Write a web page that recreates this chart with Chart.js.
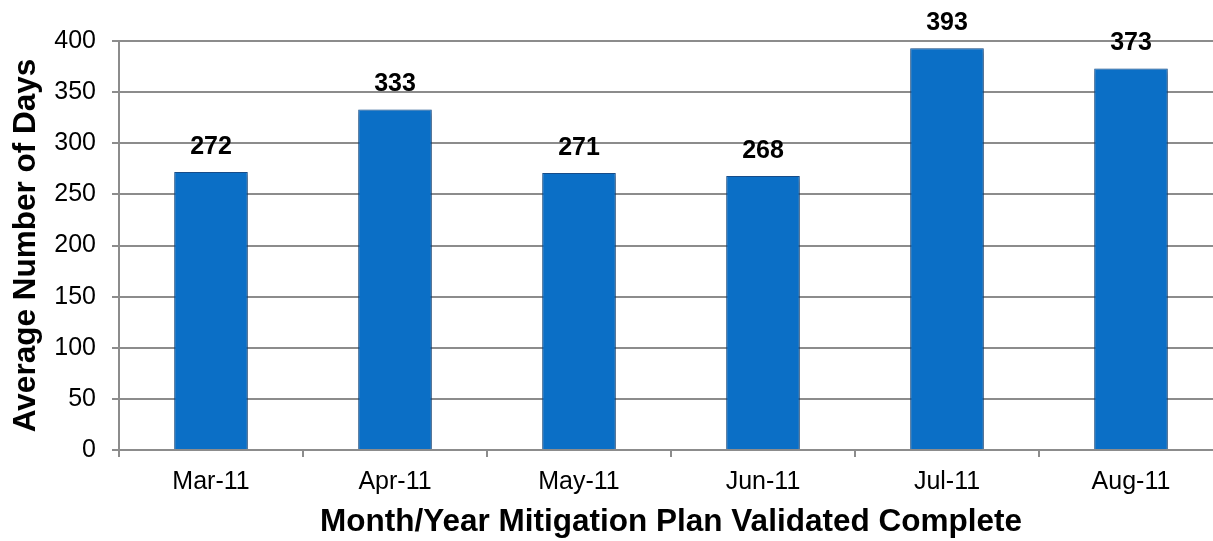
<!DOCTYPE html>
<html>
<head>
<meta charset="utf-8">
<script src="https://cdn.jsdelivr.net/npm/chart.js@4/dist/chart.umd.min.js"></script>
<style>
  html, body { margin: 0; padding: 0; background: #fff; overflow: hidden; }
  #wrap { width: 1228px; height: 541px; }
</style>
</head>
<body>
<div id="wrap"><canvas id="daysChart" width="1228" height="541"></canvas></div>
<script>
// data
var months = ['Mar-11', 'Apr-11', 'May-11', 'Jun-11', 'Jul-11', 'Aug-11'];
var avgDays = [272, 333, 271, 268, 393, 373];
var yTicks = [0, 50, 100, 150, 200, 250, 300, 350, 400];

var FONT = '"Liberation Sans", Arial, sans-serif';

// bold value over each bar
var valueLabels = {
    id: 'valueLabels',
    afterDatasetsDraw: function (chart) {
        var ctx = chart.ctx;
        var meta = chart.getDatasetMeta(0);
        ctx.save();
        ctx.font = 'bold 25px ' + FONT;
        ctx.fillStyle = '#000';
        ctx.textAlign = 'center';
        ctx.textBaseline = 'middle';
        meta.data.forEach(function (bar, i) {
            ctx.fillText(avgDays[i], bar.x, bar.y - 25);
        });
        ctx.restore();
    }
};

// soft shadow under the bars
var barShadow = {
    id: 'barShadow',
    beforeDatasetsDraw: function (chart) {
        var ctx = chart.ctx;
        ctx.save();
        ctx.shadowColor = 'rgba(0,0,0,0.35)';
        ctx.shadowBlur = 5;
        ctx.shadowOffsetX = 1;
        ctx.shadowOffsetY = 2;
    },
    afterDatasetsDraw: function (chart) {
        chart.ctx.restore();
    }
};

var ctx = document.getElementById('daysChart').getContext('2d');

var barFill = function (context) {
    var bar = context.element;
    if (!bar || !isFinite(bar.x) || !bar.width) return '#0b6fc6';
    var g = context.chart.ctx.createLinearGradient(bar.x - bar.width / 2, 0, bar.x + bar.width / 2, 0);
    g.addColorStop(0, '#114f8f');
    g.addColorStop(0.1, '#0a68bd');
    g.addColorStop(0.5, '#0a74d0');
    g.addColorStop(0.9, '#0a68bd');
    g.addColorStop(1, '#114f8f');
    return g;
};

var daysChart = new Chart(ctx, {
    type: 'bar',
    data: {
        labels: months,
        datasets: [{
            data: avgDays,
            backgroundColor: barFill,
            borderColor: '#17508f',
            borderWidth: 1,
            categoryPercentage: 1.0,
            barPercentage: 0.4
        }]
    },
    options: {
        responsive: false,
        animation: false,
        layout: { padding: { top: 41, right: 5, left: 0, bottom: 0 } },
        plugins: {
            legend: { display: false },
            tooltip: { enabled: false }
        },
        scales: {
            x: {
                afterFit: function (axis) { axis.height = 91; },
                grid: {
                    display: true,
                    drawOnChartArea: false,
                    color: '#8c8c8c',
                    lineWidth: 2,
                    tickLength: 7,
                    offset: true
                },
                border: { color: '#8c8c8c', width: 2 },
                ticks: {
                    color: '#000',
                    font: { family: FONT, size: 25 },
                    padding: 10
                },
                title: {
                    display: true,
                    text: 'Month/Year Mitigation Plan Validated Complete',
                    color: '#000',
                    font: { family: FONT, size: 31.5, weight: 'bold' },
                    padding: { top: 0, bottom: 0 }
                }
            },
            y: {
                min: 0,
                max: 400,
                afterFit: function (axis) { axis.width = 119; },
                afterBuildTicks: function (axis) {
                    axis.ticks = yTicks.map(function (v) { return { value: v }; });
                },
                grid: {
                    color: '#8c8c8c',
                    lineWidth: 2,
                    tickLength: 7
                },
                border: { color: '#8c8c8c', width: 2 },
                ticks: {
                    color: '#000',
                    font: { family: FONT, size: 25 },
                    padding: 16
                },
                title: {
                    display: true,
                    text: 'Average Number of Days',
                    color: '#000',
                    font: { family: FONT, size: 31.5, weight: 'bold' },
                    padding: { top: 7, bottom: 0 }
                }
            }
        }
    },
    plugins: [barShadow, valueLabels]
});
</script>
</body>
</html>
